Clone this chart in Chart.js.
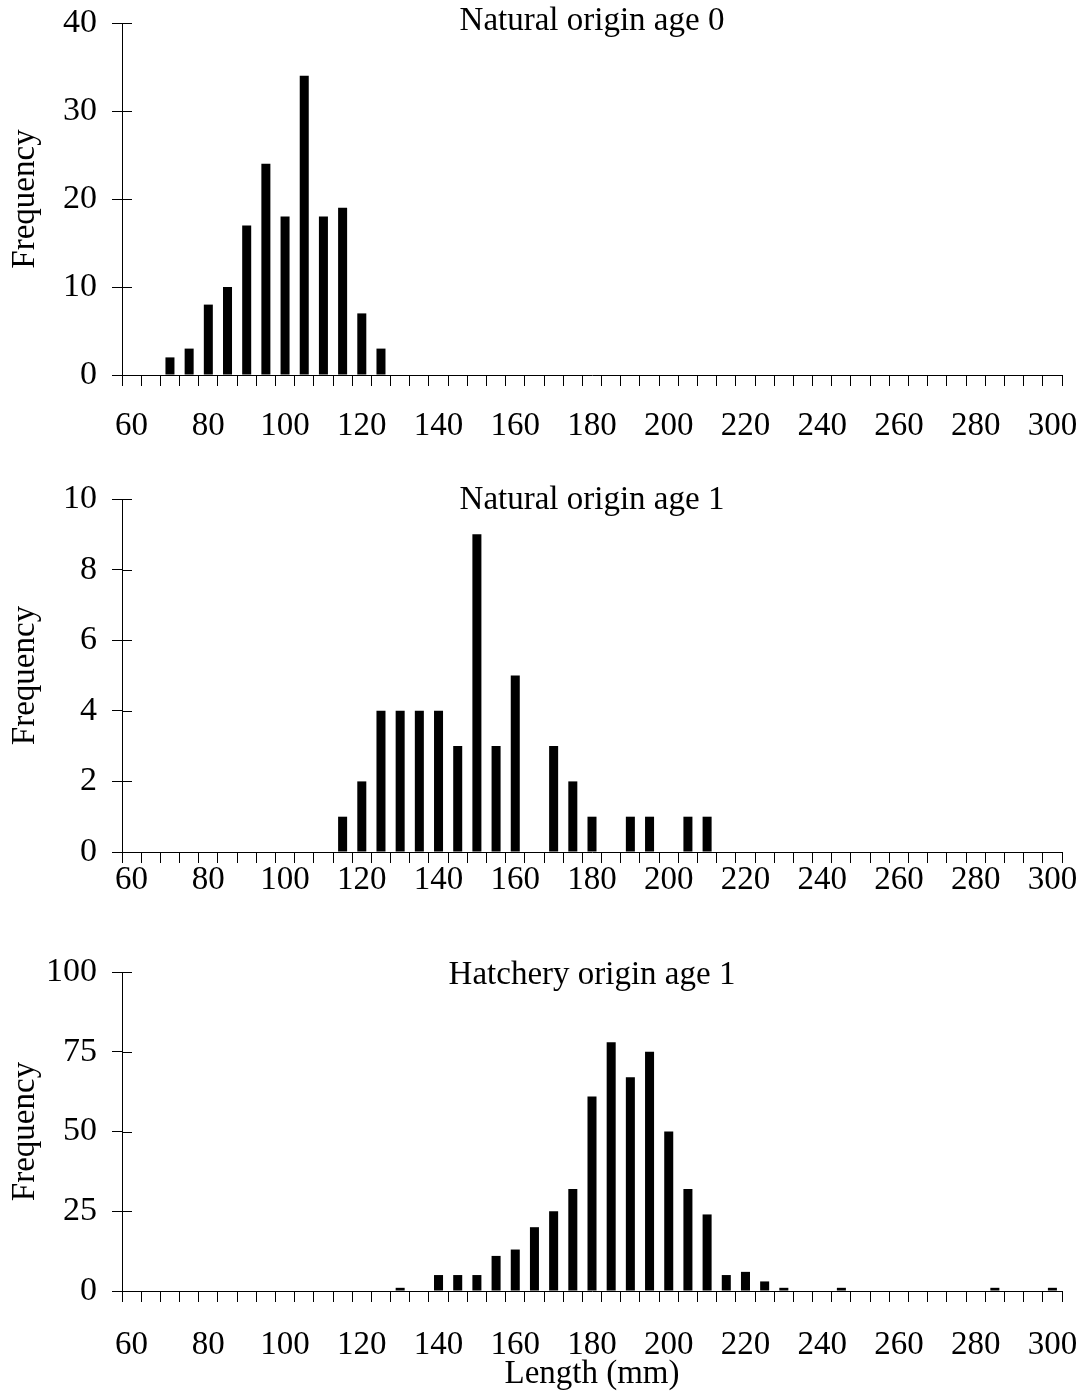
<!DOCTYPE html>
<html>
<head>
<meta charset="utf-8">
<title>Length frequency</title>
<script src="https://cdn.jsdelivr.net/npm/chart.js@4.4.1/dist/chart.umd.min.js"></script>
<style>
  html, body { margin: 0; padding: 0; background: #fff; }
  .panel { position: absolute; left: 0; width: 1084px; }
</style>
</head>
<body>
<div class="panel" style="top:0;height:450px"><canvas id="age0Chart"></canvas></div>
<div class="panel" style="top:450px;height:470px"><canvas id="age1Chart"></canvas></div>
<div class="panel" style="top:920px;height:477px"><canvas id="hatcheryChart"></canvas></div>
<script>
// Length classes (mm), 5 mm bins
const lengthBins = [60, 65, 70, 75, 80, 85, 90, 95, 100, 105, 110, 115, 120, 125, 130, 135,
  140, 145, 150, 155, 160, 165, 170, 175, 180, 185, 190, 195, 200, 205, 210, 215, 220, 225,
  230, 235, 240, 245, 250, 255, 260, 265, 270, 275, 280, 285, 290, 295, 300];

// Frequencies per bin
const naturalAge0 = [0, 0, 2, 3, 8, 10, 17, 24, 18, 34, 18, 19, 7, 3, 0, 0,
  0, 0, 0, 0, 0, 0, 0, 0, 0, 0, 0, 0, 0, 0, 0, 0, 0, 0,
  0, 0, 0, 0, 0, 0, 0, 0, 0, 0, 0, 0, 0, 0, 0];
const naturalAge1 = [0, 0, 0, 0, 0, 0, 0, 0, 0, 0, 0, 1, 2, 4, 4, 4,
  4, 3, 9, 3, 5, 0, 3, 2, 1, 0, 1, 1, 0, 1, 1, 0, 0, 0,
  0, 0, 0, 0, 0, 0, 0, 0, 0, 0, 0, 0, 0, 0, 0];
const hatcheryAge1 = [0, 0, 0, 0, 0, 0, 0, 0, 0, 0, 0, 0, 0, 0, 1, 0,
  5, 5, 5, 11, 13, 20, 25, 32, 61, 78, 67, 75, 50, 32, 24, 5, 6, 3,
  1, 0, 0, 1, 0, 0, 0, 0, 0, 0, 0, 1, 0, 0, 1];

// Y axis ranges
const yMaxValues = [40, 10, 100];
const yStepValues = [10, 2, 25];

const panelTitles = ['Natural origin age 0', 'Natural origin age 1', 'Hatchery origin age 1'];
const labelEvery = 4;

const FONT = '"Liberation Serif", "Times New Roman", serif';

// Panel title drawn inside the plot area, plus the inner half of y ticks
const panelExtras = {
  id: 'panelExtras',
  afterDraw(chart, args, opts) {
    const { ctx, chartArea } = chart;
    const yScale = chart.scales.y;
    ctx.save();
    ctx.fillStyle = '#000';
    ctx.font = '33px ' + FONT;
    ctx.textAlign = 'center';
    ctx.textBaseline = 'middle';
    ctx.fillText(opts.text, (chartArea.left + chartArea.right) / 2, chartArea.top + opts.dy);

    ctx.strokeStyle = '#000';
    ctx.lineWidth = 1;
    ctx.beginPath();
    yScale.ticks.forEach(t => {
      const py = Math.round(yScale.getPixelForValue(t.value)) + 0.5;
      ctx.moveTo(yScale.right, py);
      ctx.lineTo(yScale.right + 10, py);
    });
    ctx.stroke();
    ctx.restore();
  }
};

// keep label overhang from shrinking the plot area
function noPadding(scale) {
  scale.paddingTop = 0;
  scale.paddingBottom = 0;
  scale.paddingLeft = 0;
  scale.paddingRight = 0;
}

function makeChart(canvasId, values, idx, layout) {
  const ctx = document.getElementById(canvasId).getContext('2d');
  return new Chart(ctx, {
    type: 'bar',
    data: {
      labels: lengthBins,
      datasets: [{
        data: values,
        backgroundColor: '#000',
        borderWidth: 0,
        categoryPercentage: 1,
        barPercentage: 0.47
      }]
    },
    plugins: [panelExtras],
    options: {
      responsive: true,
      maintainAspectRatio: false,
      animation: false,
      layout: { padding: { top: layout.top, right: 22, bottom: 0, left: 0 } },
      plugins: {
        legend: { display: false },
        tooltip: { enabled: false },
        panelExtras: { text: panelTitles[idx], dy: layout.titleDy }
      },
      scales: {
        x: {
          grid: { display: true, drawOnChartArea: false, offset: true, color: '#000', tickLength: 11, lineWidth: 1 },
          border: { display: true, color: '#000', width: 1 },
          ticks: {
            autoSkip: false,
            maxRotation: 0,
            padding: layout.labelPad,
            color: '#000',
            font: { family: FONT, size: 33 },
            callback: function(value, i) {
              return i % labelEvery === 0 ? String(lengthBins[i]) : '';
            }
          },
          title: {
            display: layout.xTitle,
            text: 'Length (mm)',
            color: '#000',
            font: { family: FONT, size: 33 },
            padding: { top: 0, bottom: 3 }
          },
          afterFit: function(scale) {
            scale.height = layout.xHeight;
            noPadding(scale);
          }
        },
        y: {
          min: 0,
          max: yMaxValues[idx],
          grid: { display: true, drawOnChartArea: false, color: '#000', tickLength: 10, lineWidth: 1 },
          border: { display: true, color: '#000', width: 1 },
          ticks: {
            stepSize: yStepValues[idx],
            padding: 15,
            color: '#000',
            font: { family: FONT, size: 34 }
          },
          title: {
            display: true,
            text: 'Frequency',
            color: '#000',
            font: { family: FONT, size: 33 },
            padding: { top: 6, bottom: 0 }
          },
          afterFit: function(scale) {
            scale.width = 122;
            noPadding(scale);
          }
        }
      }
    }
  });
}

makeChart('age0Chart', naturalAge0, 0, { top: 23, xHeight: 75, labelPad: 21, titleDy: -2, xTitle: false });
makeChart('age1Chart', naturalAge1, 1, { top: 49, xHeight: 68, labelPad: -2, titleDy: 1, xTitle: false });
makeChart('hatcheryChart', hatcheryAge1, 2, { top: 52, xHeight: 106, labelPad: 24, titleDy: 3, xTitle: true });
</script>
</body>
</html>
